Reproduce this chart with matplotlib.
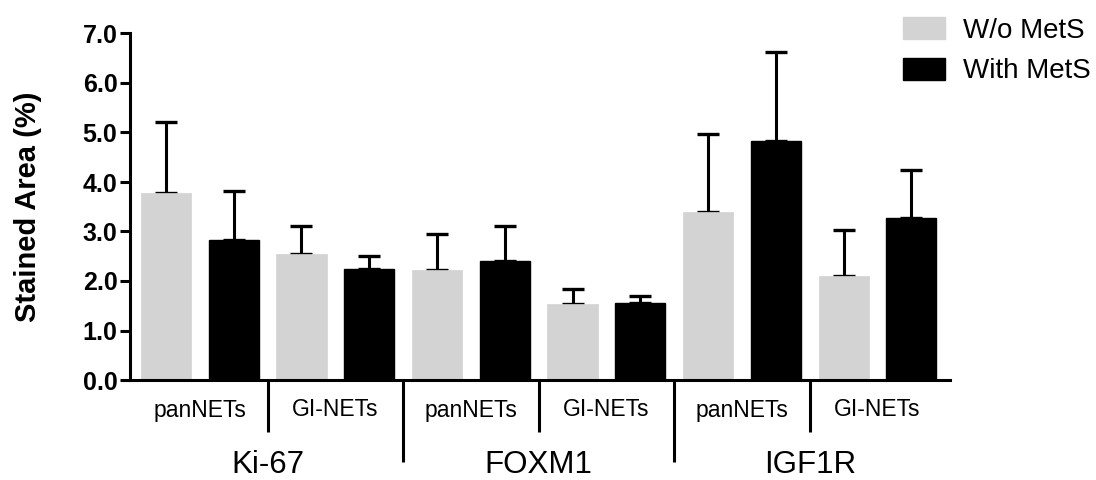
import matplotlib
matplotlib.use("Agg")
import matplotlib.pyplot as plt
from matplotlib.patches import Patch
from matplotlib.transforms import blended_transform_factory
import numpy as np

groups = ["Ki-67", "FOXM1", "IGF1R"]
subgroups = ["panNETs", "GI-NETs"]
series_names = ["W/o MetS", "With MetS"]
wo_mean = [3.78, 2.55, 2.22, 1.53, 3.40, 2.10]
wo_sem = [1.44, 0.57, 0.73, 0.31, 1.56, 0.93]
with_mean = [2.83, 2.25, 2.40, 1.55, 4.83, 3.27]
with_sem = [0.99, 0.26, 0.72, 0.15, 1.79, 0.97]
yticks = [0.0, 1.0, 2.0, 3.0, 4.0, 5.0, 6.0, 7.0]

plt.rcParams["font.family"] = ["Liberation Sans", "DejaVu Sans"]

fig = plt.figure(figsize=(10.96, 4.80), dpi=100)
ax = fig.add_axes([130 / 1096, 100 / 480, 820 / 1096, 346.5 / 480])

n = len(wo_mean)
x_wo = np.arange(n) * 2
x_with = np.arange(n) * 2 + 1
w = 0.74
gray = "#d3d3d3"

ax.bar(x_wo, wo_mean, width=w, color=gray, edgecolor=gray, linewidth=0.5, zorder=2)
ax.bar(x_with, with_mean, width=w, color="black", edgecolor="black", linewidth=1, zorder=2)
ax.errorbar(x_wo, wo_mean, yerr=[np.zeros(n), wo_sem], fmt="none", ecolor="black",
            elinewidth=2.2, capsize=8, capthick=2.4, zorder=1)
ax.errorbar(x_with, with_mean, yerr=[np.zeros(n), with_sem], fmt="none", ecolor="black",
            elinewidth=2.2, capsize=8, capthick=2.4, zorder=1)

ax.set_xlim(-0.53, 2 * n - 1 + 0.57)
ax.set_ylim(0, 7.0)
ax.set_yticks(yticks)
ax.set_yticklabels([f"{v:.1f}" for v in yticks], fontsize=18, fontweight="bold")
ax.set_xticks([])
for s in ["top", "right"]:
    ax.spines[s].set_visible(False)
for s in ["left", "bottom"]:
    ax.spines[s].set_linewidth(2.2)
ax.tick_params(axis="y", length=7, width=2.2, pad=2)
ax.set_ylabel("Stained Area (%)", fontsize=21, fontweight="bold", labelpad=29)

trans = blended_transform_factory(ax.transData, ax.transAxes)
axh = 346.5
# subgroup labels and separators
for i in range(n):
    xc = (x_wo[i] + x_with[i]) / 2
    ax.text(xc, -30 / axh, subgroups[i % 2], transform=trans, ha="center", va="center",
            fontsize=16.5)
for i in range(1, n):
    xs = (x_with[i - 1] + x_wo[i]) / 2
    if i % 2 == 1:
        y_end = -52 / axh
    else:
        y_end = -82 / axh
    ax.plot([xs, xs], [0, y_end], transform=trans, color="black", lw=2.2,
            clip_on=False, solid_capstyle="butt")
for g in range(len(groups)):
    xc = (x_wo[2 * g] + x_with[2 * g + 1]) / 2
    ax.text(xc, -85 / axh, groups[g], transform=trans, ha="center", va="center",
            fontsize=22.5)

handles = [Patch(facecolor=gray, edgecolor=gray), Patch(facecolor="black", edgecolor="black")]
fig.legend(handles, series_names, loc="upper left", bbox_to_anchor=(903 / 1096, 1 - 17 / 480),
           frameon=False, fontsize=20, handlelength=1.5, handleheight=0.85,
           handletextpad=0.65, labelspacing=0.5, borderpad=0, borderaxespad=0)

fig.savefig("out.png", dpi=100)
